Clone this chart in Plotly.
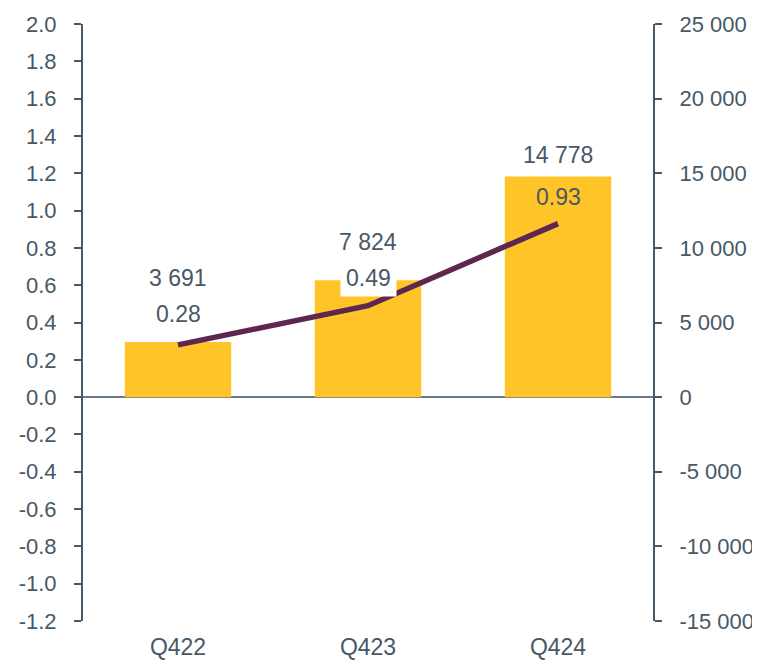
import plotly.graph_objects as go

categories = ["Q422", "Q423", "Q424"]
bar_values = [3691, 7824, 14778]
line_values = [0.28, 0.49, 0.93]
right_ticks = [-15000, -10000, -5000, 0, 5000, 10000, 15000, 20000, 25000]
left_ticks = [-1.2, -1.0, -0.8, -0.6, -0.4, -0.2, 0.0, 0.2, 0.4, 0.6, 0.8, 1.0, 1.2, 1.4, 1.6, 1.8, 2.0]

TXT = "#475866"
FONT = "Liberation Sans, Arial, sans-serif"
BAR = "#FFC428"
LINE = "#5E2750"

def fmt_thousands(v):
    return f"{v:,}".replace(",", " ")

fig = go.Figure()
fig.add_trace(go.Bar(x=categories, y=bar_values, marker=dict(color=BAR, line=dict(width=0)),
                     width=0.56, yaxis="y", hoverinfo="skip"))
fig.add_trace(go.Scatter(x=categories, y=line_values, mode="lines", yaxis="y2",
                         line=dict(color=LINE, width=5.5), hoverinfo="skip"))

bar_label_shift = [64, 38, 22]
line_label_shift = [31, 28, 27]
line_label_bg = ["white", "white", "rgba(0,0,0,0)"]

annotations = []
for i, c in enumerate(categories):
    annotations.append(dict(x=c, y=bar_values[i], xref="x", yref="y", text=fmt_thousands(bar_values[i]),
                            showarrow=False, yanchor="middle", yshift=bar_label_shift[i],
                            font=dict(family=FONT, size=23, color=TXT)))
    annotations.append(dict(x=c, y=line_values[i], xref="x", yref="y2", text=f"{line_values[i]:.2f}",
                            showarrow=False, yanchor="middle", yshift=line_label_shift[i],
                            bgcolor=line_label_bg[i], borderpad=5,
                            font=dict(family=FONT, size=23, color=TXT)))

fig.update_layout(
    width=752, height=653,
    margin=dict(l=75, r=107, t=16, b=40),
    paper_bgcolor="white", plot_bgcolor="white",
    showlegend=False,
    font=dict(family=FONT, size=22, color=TXT),
    xaxis=dict(showline=False, showgrid=False, zeroline=False, ticks="", automargin=False,
               tickfont=dict(family=FONT, size=23, color=TXT), ticklabelstandoff=10),
    yaxis=dict(side="right", range=[-15000, 25000], automargin=False,
               tickmode="array", tickvals=right_ticks,
               ticktext=[fmt_thousands(v) for v in right_ticks],
               showgrid=False, showline=True, linecolor=TXT, linewidth=2,
               ticks="outside", ticklen=7, tickwidth=2, tickcolor=TXT,
               zeroline=True, zerolinecolor="#6B7A88", zerolinewidth=1.5,
               ticklabelstandoff=13, tickfont=dict(family=FONT, size=22, color=TXT)),
    yaxis2=dict(side="left", overlaying="y", range=[-1.2, 2.0], automargin=False,
                tickmode="array", tickvals=left_ticks,
                ticktext=[f"{v:.1f}" for v in left_ticks],
                showgrid=False, showline=True, linecolor=TXT, linewidth=2,
                ticks="outside", ticklen=7, tickwidth=2, tickcolor=TXT, zeroline=False,
                ticklabelstandoff=13, tickfont=dict(family=FONT, size=22, color=TXT)),
    annotations=annotations,
)

fig.write_html("out.html")
